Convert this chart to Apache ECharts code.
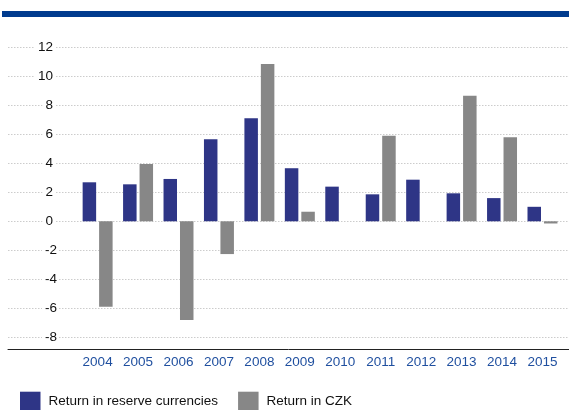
<!DOCTYPE html>
<html>
<head>
<meta charset="utf-8">
<script src="https://cdn.jsdelivr.net/npm/echarts@6/dist/echarts.min.js"></script>
<style>
html,body{margin:0;padding:0;background:#fff;}
#chart{width:569px;height:410px;}
</style>
</head>
<body>
<div id="chart"></div>
<script>
const years = ['2004','2005','2006','2007','2008','2009','2010','2011','2012','2013','2014','2015'];
const reserveReturn = [2.69, 2.55, 2.92, 5.66, 7.1, 3.66, 2.39, 1.86, 2.87, 1.93, 1.6, 1.0];
const czkReturn = [-5.89, 3.95, -6.8, -2.26, 10.85, 0.66, 0, 5.9, 0, 8.66, 5.79, -0.15];
const seriesNames = ['Return in reserve currencies', 'Return in CZK'];
const yMin = -8, yMax = 12, yStep = 2;

const FONT = 'Liberation Sans, Arial, sans-serif';
const BLUE = '#2e3586';
const GRAY = '#878787';

const chart = echarts.init(document.getElementById('chart'), null, {renderer: 'canvas'});
const gridTop = 47.3, gridBottom = 72.7;

chart.setOption({
  animation: false,
  graphic: [{
    type: 'rect',
    shape: {x: 2, y: 11, width: 567, height: 6},
    style: {fill: '#003b8e'}
  }],
  grid: [
    {left: 8, right: 0, top: gridTop, bottom: gridBottom},
    {left: 77.4, right: 6.3, top: gridTop, bottom: gridBottom}
  ],
  xAxis: [
    {
      type: 'value', gridIndex: 0, min: 0, max: 1,
      offset: 12,
      axisLine: {show: true, onZero: false, lineStyle: {color: '#222', width: 1}},
      axisTick: {show: false}, axisLabel: {show: false}, splitLine: {show: false}
    },
    {
      type: 'category', gridIndex: 1, data: years,
      offset: 12,
      axisLine: {show: false}, axisTick: {show: false},
      axisLabel: {color: '#1f4f9f', fontFamily: FONT, fontSize: 13.5, margin: 6}
    }
  ],
  yAxis: [
    {
      type: 'value', gridIndex: 0, min: yMin, max: yMax, interval: yStep,
      axisLine: {show: false}, axisTick: {show: false},
      splitLine: {show: true, lineStyle: {color: '#cccccc', type: [1.5, 1.5], width: 1}},
      axisLabel: {
        inside: true, align: 'right', margin: 51,
        formatter: v => v >= 0 ? '{a|' + v + '}{s| }' : '{a|' + v + '}',
        rich: {
          a: {fontFamily: FONT, fontSize: 13.5, color: '#111', backgroundColor: '#fff', padding: [1, 2, 1, 3]},
          s: {width: 4, fontSize: 13}
        }
      },
      z: 1
    },
    {
      type: 'value', gridIndex: 1, min: yMin, max: yMax, interval: yStep,
      show: false, splitLine: {show: false}
    }
  ],
  legend: {
    left: 20, top: 391.7, padding: 0,
    itemWidth: 20.5, itemHeight: 18.5, itemGap: 20,
    icon: 'rect',
    data: seriesNames,
    textStyle: {fontFamily: FONT, fontSize: 13.5, color: '#111', padding: [0, 0, 0, 3]}
  },
  series: [
    {
      name: seriesNames[0], type: 'bar', xAxisIndex: 1, yAxisIndex: 1,
      data: reserveReturn, barWidth: 13.5, barGap: '22%',
      itemStyle: {color: BLUE}
    },
    {
      name: seriesNames[1], type: 'bar', xAxisIndex: 1, yAxisIndex: 1,
      data: czkReturn, barWidth: 13.5, barGap: '22%',
      itemStyle: {color: GRAY}
    }
  ]
});
</script>
</body>
</html>
